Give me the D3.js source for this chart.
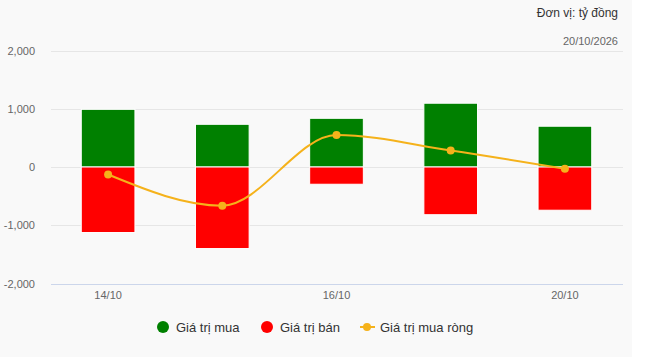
<!DOCTYPE html>
<html>
<head>
<meta charset="utf-8">
<script src="https://cdn.jsdelivr.net/npm/d3@7"></script>
<style>
  body { margin: 0; background: #fff; }
  svg { display: block; font-family: "Liberation Sans", Arial, sans-serif; }
</style>
</head>
<body>
<svg id="chart" width="652" height="357"></svg>
<script>
var dates = ["14/10", "15/10", "16/10", "17/10", "20/10"]
var shownLabels = ["14/10", "16/10", "20/10"]
var buyValues = [990, 733, 836, 1095, 700]
var sellValues = [-1125, -1400, -296, -819, -742]
var netValues = [-129, -664, 548, 284, -30]
var yTicks = [-2000, -1000, 0, 1000, 2000]
var seriesNames = ["Giá trị mua", "Giá trị bán", "Giá trị mua ròng"]
var seriesColors = ["#008000", "#ff0000", "#f5b21b"]

var svg = d3.select("#chart")

// plot area background
svg.append("rect")
    .attr("x", 0).attr("y", 0)
    .attr("width", 632).attr("height", 357)
    .style("fill", "#f9f9f9")

var x = d3.scaleBand().domain(dates).range([51, 622]).paddingInner(0.53).paddingOuter(0.265)
var y = d3.scaleLinear().domain([-2000, 2000]).range([283.5, 50.5])

// gridlines
svg.append("g")
    .selectAll("line")
    .data(yTicks)
    .enter()
    .append("line")
    .attr("x1", 51).attr("x2", 623)
    .attr("y1", d => Math.round(y(d)) + 0.5)
    .attr("y2", d => Math.round(y(d)) + 0.5)
    .style("stroke", d => d === -2000 ? "#ccd6eb" : "#e6e6e6")
    .style("stroke-width", 1)

// y labels (plain hyphen for negatives)
var fmt = d3.format(",")
var yAxis = svg.append("g")
    .attr("transform", "translate(35,0)")
    .call(d3.axisLeft(y).tickValues(yTicks).tickSize(0).tickPadding(0)
        .tickFormat(d => fmt(d).replace("\u2212", "-")))
yAxis.select(".domain").remove()
yAxis.selectAll("text").style("font-size", "11px").style("fill", "#666").style("font-family", "Liberation Sans, Arial, sans-serif")

// x labels
var xAxis = svg.append("g")
    .attr("transform", "translate(0,291)")
    .call(d3.axisBottom(x).tickSize(0).tickPadding(0).tickFormat(d => shownLabels.includes(d) ? d : ""))
xAxis.select(".domain").remove()
xAxis.selectAll("text").style("font-size", "11px").style("fill", "#666").style("font-family", "Liberation Sans, Arial, sans-serif")

// bars
svg.append("g")
    .selectAll("rect")
    .data(dates)
    .enter()
    .append("rect")
    .attr("x", d => x(d))
    .attr("width", x.bandwidth())
    .attr("y", (d, i) => y(buyValues[i]))
    .attr("height", (d, i) => y(0) - y(buyValues[i]))
    .style("fill", seriesColors[0])
    .style("stroke", "#fff")
    .style("stroke-width", 1)

svg.append("g")
    .selectAll("rect")
    .data(dates)
    .enter()
    .append("rect")
    .attr("x", d => x(d))
    .attr("width", x.bandwidth())
    .attr("y", y(0))
    .attr("height", (d, i) => y(sellValues[i]) - y(0))
    .style("fill", seriesColors[1])
    .style("stroke", "#fff")
    .style("stroke-width", 1)

// net line
var line = d3.line()
    .x((d, i) => x(dates[i]) + x.bandwidth() / 2)
    .y(d => y(d))
    .curve(d3.curveMonotoneX)

svg.append("path")
    .datum(netValues)
    .attr("d", line)
    .style("fill", "none")
    .style("stroke", seriesColors[2])
    .style("stroke-width", 2)

svg.append("g")
    .selectAll("circle")
    .data(netValues)
    .enter()
    .append("circle")
    .attr("cx", (d, i) => x(dates[i]) + x.bandwidth() / 2)
    .attr("cy", d => y(d))
    .attr("r", 4)
    .style("fill", seriesColors[2])

// top-right texts
svg.append("text").attr("x", 618).attr("y", 17).attr("text-anchor", "end")
    .style("font-size", "12px").style("fill", "#333").text("Đơn vị: tỷ đồng")
svg.append("text").attr("x", 618).attr("y", 45).attr("text-anchor", "end")
    .style("font-size", "11px").style("fill", "#666").text("20/10/2026")

// legend
var legendX = [163, 267, 367]
var legend = svg.append("g")
seriesNames.forEach(function(name, i) {
    if (i < 2) {
        legend.append("circle").attr("cx", legendX[i]).attr("cy", 327).attr("r", 6).style("fill", seriesColors[i])
    } else {
        legend.append("line").attr("x1", legendX[i] - 7).attr("x2", legendX[i] + 8)
            .attr("y1", 327).attr("y2", 327).style("stroke", seriesColors[i]).style("stroke-width", 2)
        legend.append("circle").attr("cx", legendX[i]).attr("cy", 327).attr("r", 4).style("fill", seriesColors[i])
    }
    legend.append("text").attr("x", legendX[i] + 13).attr("y", 327).attr("dy", "0.35em")
        .style("font-size", "13px").style("fill", "#333").text(name)
})
</script>
</body>
</html>
